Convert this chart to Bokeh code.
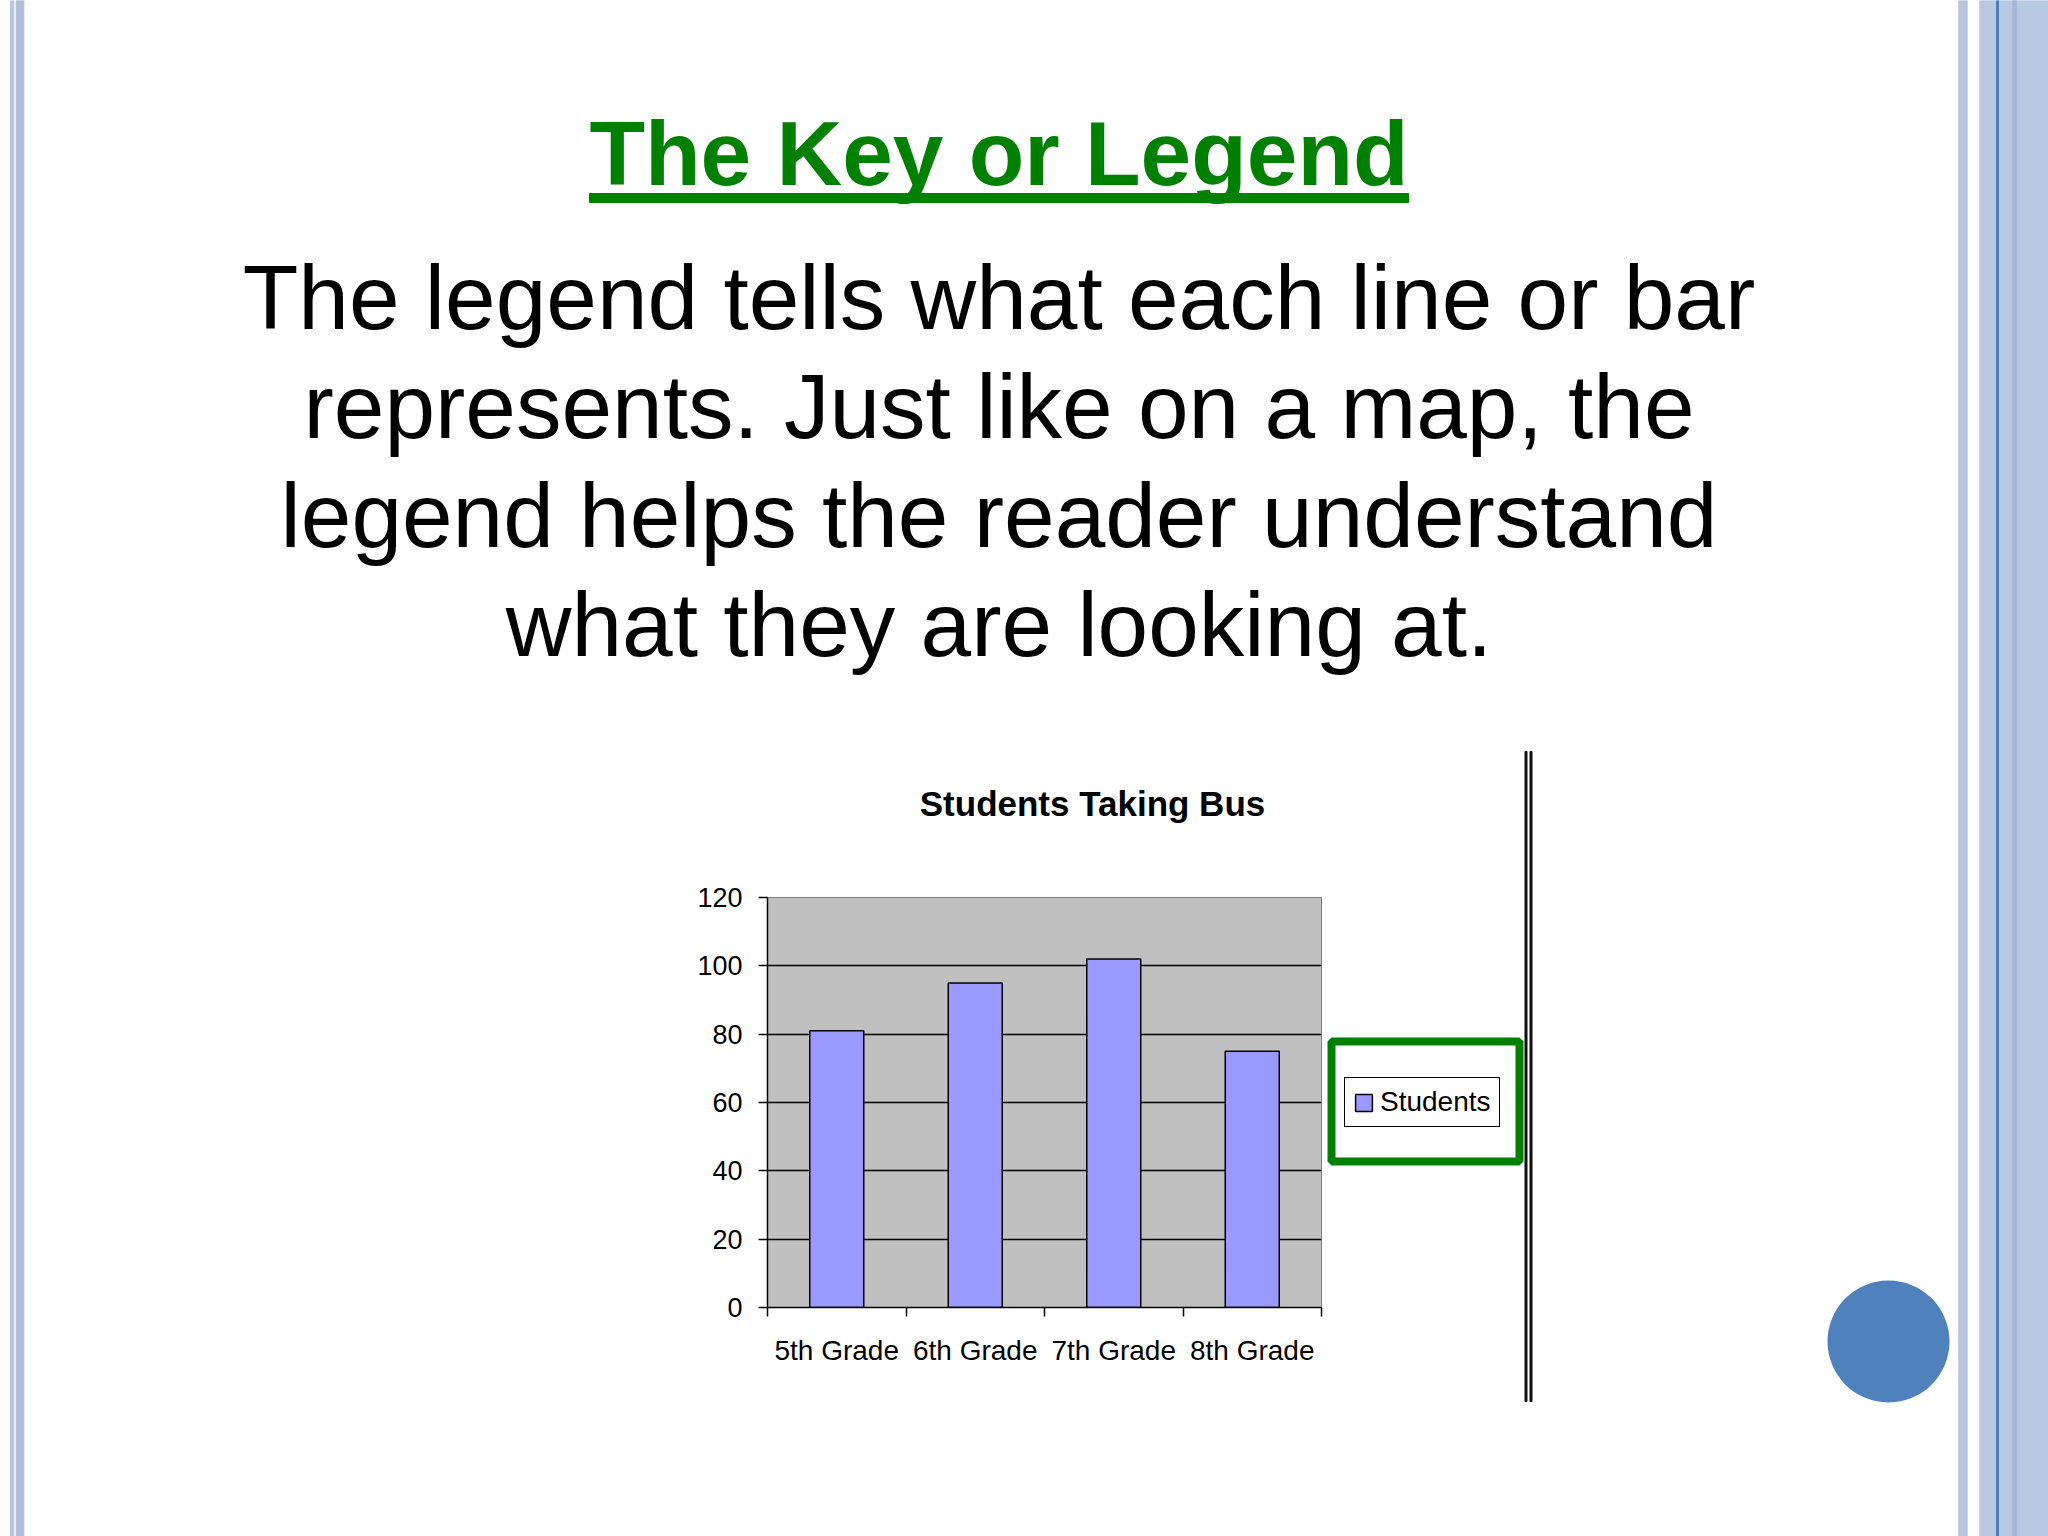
import numpy as np
from bokeh.plotting import figure
from bokeh.models import (Range1d, LinearAxis, FixedTicker, Legend, LegendItem, ColumnDataSource)
from bokeh.core.properties import value
from bokeh.embed import file_html
from bokeh.resources import INLINE

# ---------------- data ----------------
categories = ["5th Grade", "6th Grade", "7th Grade", "8th Grade"]
students = [81, 95, 102, 75]
y_ticks = [0, 20, 40, 60, 80, 100, 120]
series_name = "Students"
chart_title = "Students Taking Bus"
slide_title = "The Key or Legend"
body_lines = [
    "The legend tells what each line or bar",
    "represents. Just like on a map, the",
    "legend helps the reader understand",
    "what they are looking at.",
]

FONT = value("Liberation Sans")
GREEN = "#008000"

# ---------------- slide background (page-pixel coordinates) ----------------
PW, PH = 2048, 1536
bg = figure(width=PW, height=PH, x_range=Range1d(0, PW), y_range=Range1d(PH, 0),
            output_backend="svg", toolbar_location=None,
            x_axis_location=None, y_axis_location=None, min_border=0)
bg.outline_line_color = None
bg.grid.visible = False
bg.background_fill_color = "white"
bg.border_fill_color = "white"

# side stripes
stripes = dict(
    left=[10, 15.7, 1958.3, 1979.3, 1996, 2012.3],
    right=[13.3, 23.3, 1966.7, 2048, 1998, 2016],
    color=["#b9c5dd", "#b1bdd8", "#b9c3da", "#b9c8e1", "#4f7fbf", "#a8b6d8"],
)
bg.quad(left="left", right="right", top=0, bottom=PH, color="color",
        source=ColumnDataSource(stripes))

# slide title + underline
bg.text(x=[998.5], y=[153], text=[slide_title], text_font=FONT, text_font_style="bold",
        text_font_size="91px", text_color=GREEN, text_align="center",
        text_baseline="alphabetic")
bg.quad(left=[589], right=[1408], top=[193], bottom=[202], color=GREEN)

# body text
bg.text(x=[998.5] * len(body_lines), y=[296.5 + 109.3 * i for i in range(len(body_lines))],
        text=body_lines, text_font=FONT, text_font_size="91px", text_color="black",
        text_align="center", text_baseline="alphabetic")

# chart title
bg.text(x=[1092], y=[803], text=[chart_title], text_font=FONT, text_font_style="bold",
        text_font_size="35px", text_color="black", text_align="center",
        text_baseline="alphabetic")

# green frame round the legend
bg.quad(left=[1331], right=[1519], top=[1041], bottom=[1161], fill_alpha=0,
        line_color=GREEN, line_width=8)

# double vertical line right of the chart
bg.quad(left=[1524.5, 1529.5], right=[1526.5, 1531.5], top=[751, 751], bottom=[1401, 1401],
        color="#111111")

# blue circle
bg.circle(x=[1888], y=[1341], radius=61, fill_color="#4f81bd", line_color=None)

# ---------------- the bar chart ----------------
CL, CT = 600, 860            # page position of the chart figure
FL, FT, FW, FH = 767, 897, 554, 410   # plot area on the page
MB_L = FL - CL
MB_T = FT - CT
MB_R = 180
MB_B = 80
n = len(categories)
centres = [i + 0.5 for i in range(n)]

p = figure(frame_width=FW, frame_height=FH,
           x_range=Range1d(0, n), y_range=Range1d(0, 120),
           output_backend="svg", toolbar_location=None,
           x_axis_location=None, y_axis_location="left",
           min_border_left=MB_L, min_border_right=MB_R,
           min_border_top=MB_T, min_border_bottom=MB_B,
           styles={"position": "absolute", "left": f"{CL}px", "top": f"{CT}px"})

p.background_fill_color = "#c0c0c0"
p.border_fill_alpha = 0
p.outline_line_color = "#808080"
p.outline_line_width = 1

p.yaxis.ticker = FixedTicker(ticks=y_ticks)
p.yaxis.major_tick_out = 9
p.yaxis.major_tick_in = 0
p.yaxis.minor_tick_line_color = None
p.yaxis.axis_line_color = "black"
p.yaxis.axis_line_width = 1.5
p.yaxis.major_tick_line_width = 1.5
p.yaxis.major_tick_line_color = "black"
p.yaxis.major_label_text_font = "Liberation Sans"
p.yaxis.major_label_text_font_size = "27px"
p.yaxis.major_label_text_color = "black"
p.yaxis.major_label_standoff = 16

p.ygrid.ticker = FixedTicker(ticks=y_ticks[1:-1])
p.ygrid.grid_line_color = "black"
p.ygrid.grid_line_width = 1.5
p.xgrid.grid_line_color = None

xa = LinearAxis(ticker=FixedTicker(ticks=centres, minor_ticks=list(range(n + 1))),
                major_label_overrides={c: lab for c, lab in zip(centres, categories)})
xa.major_tick_line_color = None
xa.major_tick_out = 0
xa.major_tick_in = 0
xa.minor_tick_out = 9
xa.minor_tick_in = 0
xa.minor_tick_line_color = "black"
xa.minor_tick_line_width = 1.5
xa.axis_line_color = "black"
xa.axis_line_width = 1.5
xa.major_label_text_font = "Liberation Sans"
xa.major_label_text_font_size = "28px"
xa.major_label_text_color = "black"
xa.major_label_standoff = 18
p.add_layout(xa, "below")

src = ColumnDataSource(dict(x=centres, val=students, cat=categories))
bars = p.vbar(x="x", top="val", width=0.39, source=src,
              fill_color="#9999ff", line_color="black", line_width=1.5)

legend = Legend(items=[LegendItem(label=series_name, renderers=[bars])],
                location="center_left",
                border_line_color="black", border_line_width=1.5, border_line_alpha=1.0,
                background_fill_color="white", background_fill_alpha=1.0,
                glyph_width=21, glyph_height=21, padding=8, spacing=0,
                label_standoff=6, margin=23,
                label_text_font="Liberation Sans", label_text_font_size="28px",
                label_text_color="black")
p.add_layout(legend, "right")

open("out.html", "w").write(file_html([bg, p], INLINE))
